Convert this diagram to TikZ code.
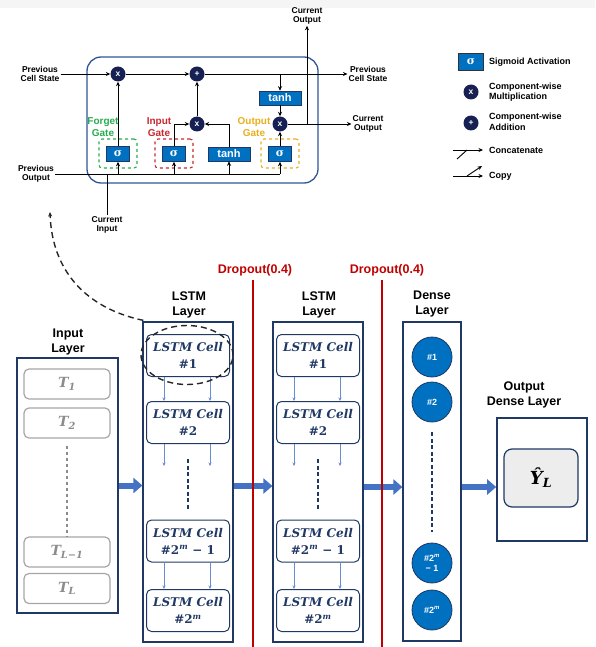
\documentclass[tikz,border=0pt]{standalone}
\usepackage{amsmath}
\usepackage{fontspec}
\setsansfont{Liberation Sans}
\newfontfamily\greekfont{DejaVu Serif}
\newfontfamily\cellfont{DejaVu Serif}
\usetikzlibrary{arrows.meta,shapes.geometric}
\definecolor{navy}{RGB}{32,56,100}
\definecolor{cellframe}{RGB}{47,85,151}
\definecolor{sigblue}{RGB}{0,112,192}
\definecolor{opnavy}{RGB}{22,32,82}
\definecolor{flowblue}{RGB}{68,114,196}
\definecolor{forgetgreen}{RGB}{40,170,80}
\definecolor{inputred}{RGB}{200,40,45}
\definecolor{outputgold}{RGB}{232,175,30}
\definecolor{dropred}{RGB}{192,0,0}
\newcommand{\pxfont}[2]{\fontsize{#1}{#2}\selectfont}
\newcommand{\cellname}[1]{{\itshape LSTM Cell}\\#1}
\newcommand{\sig}{{\greekfont\bfseries σ}}

\begin{document}
\begin{tikzpicture}[x=1pt, y=-1pt, >={Stealth[length=4.5pt,width=4pt]},
  wire/.style={line width=0.9pt},
  lbl/.style={font=\sffamily\bfseries\pxfont{8.5}{9.5}, align=center, inner sep=1pt},
  keytext/.style={font=\sffamily\bfseries\pxfont{9}{10.5}, align=left, anchor=west, inner sep=0pt},
  sigbox/.style={draw=navy, fill=sigblue, text=white, line width=0.6pt, minimum width=23pt, minimum height=15pt, inner sep=0pt, font=\pxfont{11}{12}},
  actbox/.style={sigbox, minimum width=42pt, minimum height=14pt, font=\sffamily\bfseries\pxfont{11}{12}},
  opnode/.style={circle, fill=opnavy, text=white, minimum size=15pt, inner sep=0pt, font=\sffamily\bfseries\pxfont{8.5}{8.5}},
  gatebox/.style={dashed, line width=1.1pt, rounded corners=3pt, minimum width=38pt, minimum height=29pt},
  gatelbl/.style={font=\sffamily\bfseries\pxfont{10}{12}, align=center, inner sep=0pt},
  layerlbl/.style={font=\sffamily\bfseries\pxfont{12.5}{14.5}, align=center},
  layerbox/.style={draw=navy, line width=1.2pt, inner sep=0pt},
  cellbox/.style={draw=navy, line width=1pt, rounded corners=5pt, minimum width=83pt, minimum height=42pt, inner sep=1pt, align=center, text=navy, font=\cellfont\bfseries\pxfont{12}{17}},
  inbox/.style={draw=black!35, line width=1.2pt, rounded corners=5pt, minimum width=86pt, minimum height=30pt, text=black!45, font=\cellfont\bfseries\itshape\pxfont{14}{14}},
  denseunit/.style={circle, draw=navy, line width=0.8pt, fill=sigblue, text=white, minimum size=40pt, inner sep=0pt, align=center, font=\sffamily\bfseries\pxfont{9}{10}},
  flow/.style={draw=flowblue, line width=6pt, -{Triangle[length=9pt,width=15pt]}},
  hop/.style={draw=flowblue!80, line width=0.4pt, -{Stealth[length=3.5pt,width=3pt]}},
  dots/.style={draw=navy, line width=2.2pt, dash pattern=on 4pt off 2.5pt},
  zoomline/.style={draw=black!85, line width=1.4pt, dash pattern=on 6pt off 4pt},
  dropline/.style={draw=dropred, line width=1.4pt},
  droplbl/.style={font=\sffamily\bfseries\pxfont{12.5}{14}, text=dropred}]
  \fill[black!4] (0,0) rectangle (595,8);
  \useasboundingbox (0,0) rectangle (595,647);

  % LSTM unit
  \node[draw=cellframe, line width=1.3pt, rounded corners=14pt, minimum width=231pt, minimum height=126pt] (lstmunit) at (202.5,120) {};
  \node[opnode] (fmul) at (118,74) {x};
  \node[opnode] (add) at (197,74) {+};
  \node[opnode] (imul) at (197,124) {x};
  \node[opnode] (omul) at (280,124) {x};
  \node[actbox] (tanhc) at (280,98) {tanh};
  \node[sigbox] (sigf) at (118,154) {\sig};
  \node[sigbox] (sigi) at (174,154) {\sig};
  \node[actbox] (tanhi) at (229,154) {tanh};
  \node[sigbox] (sigo) at (280,154) {\sig};
  \node[gatebox, draw=forgetgreen] (gatef) at (118,153.5) {};
  \node[gatebox, draw=inputred] (gatei) at (174,153.5) {};
  \node[gatebox, draw=outputgold] (gateo) at (280,153.5) {};
  \node[gatelbl, text=forgetgreen] (lblf) at (103,127) {Forget\\Gate};
  \node[gatelbl, text=inputred] (lbli) at (159,127) {Input\\Gate};
  \node[gatelbl, text=outputgold] (lblo) at (254,127) {Output\\Gate};
  \node[lbl] (pcsl) at (40,74) {Previous\\Cell State};
  \node[lbl] (pcsr) at (368,74) {Previous\\Cell State};
  \node[lbl] (pol) at (36,174) {Previous\\Output};
  \node[lbl] (coutr) at (368,124) {Current\\Output};
  \node[lbl] (coutt) at (307,16) {Current\\Output};
  \node[lbl] (cinl) at (107,225) {Current\\Input};
  \draw[wire,->] (pcsl.east) -- (fmul);
  \draw[wire,->] (fmul) -- (add);
  \draw[wire,->] (add) -- (pcsr.west);
  \draw[wire,->] (tanhc |- add) -- (tanhc);
  \draw[wire,->] (tanhc) -- (omul);
  \draw[wire,->] (omul) -- (coutr.west);
  \draw[wire,->] (coutt.south |- omul) -- (coutt.south);
  \draw[wire,->] (sigf) -- (fmul);
  \draw[wire,->] (imul) -- (add);
  \draw[wire,->] (sigi) |- (imul);
  \draw[wire,->] (tanhi) |- (imul);
  \draw[wire,->] (sigo) -- (omul);
  \draw[wire] (pol.east) -- (sigo |- pol.east);
  \draw[wire] (cinl.north) -- (cinl.north |- pol.east);
  \foreach \g in {sigf,sigi,tanhi,sigo}
    \draw[wire,->] (\g |- pol.east) -- (\g);

  % legend
  \node[sigbox, draw=black!80, line width=1.2pt, minimum width=25pt, minimum height=17pt] (keysig) at (471,62) {\sig};
  \node[keytext] (keysigt) at (489,62) {Sigmoid Activation};
  \node[opnode] (keymul) at (471,92) {x};
  \node[keytext] (keymult) at (489,92) {Component-wise\\Multiplication};
  \node[opnode] (keyadd) at (471,123) {+};
  \node[keytext] (keyaddt) at (489,122) {Component-wise\\Addition};
  \node[keytext] (keycat) at (489,150) {Concatenate};
  \node[keytext] (keycopy) at (489,176) {Copy};
  \draw[wire,->] ([xshift=-36pt]keycat.west) -- ([xshift=-6pt]keycat.west);
  \draw[wire] ([xshift=-32pt,yshift=-9pt]keycat.west) -- ([xshift=-22pt]keycat.west);
  \draw[wire,->] ([xshift=-36pt]keycopy.west) -- ([xshift=-6pt]keycopy.west);
  \draw[wire,->] ([xshift=-22pt]keycopy.west) -- ([xshift=-7pt,yshift=10pt]keycopy.west);

  % input layer
  \node[layerlbl] (inlbl) at (68,342) {Input\\Layer};
  \node[layerbox, minimum width=101pt, minimum height=255pt] (inlayer) at (67.5,485.5) {};
  \node[inbox] (t1) at (67,384) {T\textsubscript{1}};
  \node[inbox] (t2) at (67,423) {T\textsubscript{2}};
  \node[inbox] (tl1) at (67,552) {T\textsubscript{L−1}};
  \node[inbox] (tl) at (67,588.5) {T\textsubscript{L}};
  \draw[black!45, line width=1.5pt, dashed] ([yshift=-7pt]t2.south) -- (tl1.north);

  % LSTM layers
  \foreach \k/\cx in {a/188, b/318} {
    \node[layerlbl] (\k lbl) at (\cx+1,305) {LSTM\\Layer};
    \node[layerbox, minimum width=90pt, minimum height=320pt] (\k layer) at (\cx,482) {};
    \node[cellbox] (\k1) at (\cx,355.5) {\cellname{\#1}};
    \node[cellbox] (\k2) at (\cx,422.5) {\cellname{\#2}};
    \node[cellbox] (\k3) at (\cx,541) {\cellname{\#2\textsuperscript{\itshape m} − 1}};
    \node[cellbox] (\k4) at (\cx,610.5) {\cellname{\#2\textsuperscript{\itshape m}}};
    \foreach \s in {-24,22} {
      \draw[hop] ([xshift=\s pt]\k1.south) -- ([xshift=\s pt]\k2.north);
      \draw[hop] ([xshift=\s pt]\k2.south) -- ++(0,22);
      \draw[hop] ([xshift=\s pt]\k3.south) -- ([xshift=\s pt]\k4.north);
    }
    \draw[dots] ([yshift=-15pt]\k2.south) -- ([yshift=10pt]\k3.north);
  }

  % zoom onto one cell
  \node[zoomline, ellipse, minimum width=92pt, minimum height=59pt] (zoomring) at (187,355) {};
  \coordinate (ringtop) at ([xshift=1pt,yshift=1pt]alayer.north west);
  \coordinate (unitref) at (50,212);
  \draw[zoomline, ->] (ringtop) .. controls (85,308) and (52,270) .. (unitref);

  % dense layer
  \node[layerlbl] (denselbl) at (432,304) {Dense\\Layer};
  \node[layerbox, minimum width=58pt, minimum height=319pt] (dense) at (432,481.5) {};
  \node[denseunit] (u1) at (432,357) {\#1};
  \node[denseunit] (u2) at (432,402) {\#2};
  \node[denseunit] (u3) at (432,563) {\#2\textsuperscript{\itshape m}\\− 1};
  \node[denseunit] (u4) at (432,610) {\#2\textsuperscript{\itshape m}};
  \draw[dots] ([yshift=-10pt]u2.south) -- ([yshift=11pt]u3.north);

  % output layer
  \node[layerlbl] (outlbl) at (524,395) {Output\\Dense Layer};
  \node[layerbox, line width=1.6pt, minimum width=90pt, minimum height=123pt] (outlayer) at (542,479.5) {};
  \node[draw=navy, line width=1.2pt, fill=black!7, rounded corners=8pt, minimum width=74pt, minimum height=58pt, font=\cellfont\bfseries\itshape\pxfont{18}{19}] (yhat) at (541,478) {Ŷ\textsubscript{L}};

  % flow between layers
  \draw[flow] (inlayer.east) -- (inlayer.east -| alayer.west);
  \draw[flow] ([yshift=-4pt]alayer.east) -- ([yshift=-4pt]blayer.west);
  \path ([yshift=-5pt]blayer.east) coordinate (bout);
  \draw[flow] (bout) -- (bout -| dense.west);
  \path ([yshift=-5.5pt]dense.east) coordinate (dout);
  \draw[flow] (dout) -- (dout -| outlayer.west);

  % dropout
  \node[droplbl] (drop1) at (255,270) {Dropout(0.4)};
  \node[droplbl] (drop2) at (387,270) {Dropout(0.4)};
  \coordinate (pagefoot) at (0,647);
  \coordinate (cut1) at (253,280);
  \coordinate (cut2) at (382,280);
  \draw[dropline] (cut1) -- (cut1 |- pagefoot);
  \draw[dropline] (cut2) -- (cut2 |- pagefoot);
\end{tikzpicture}
\end{document}
